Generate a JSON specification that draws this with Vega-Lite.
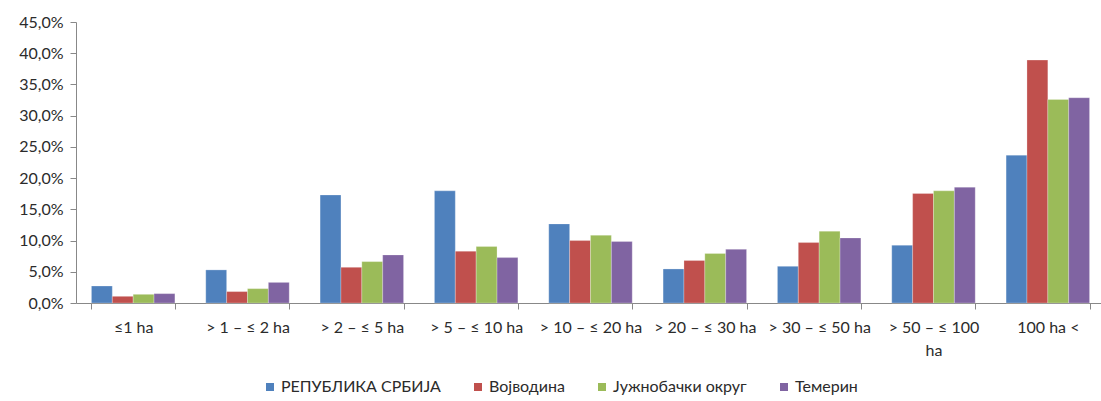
{
  "$schema": "https://vega.github.io/schema/vega-lite/v6.json",
  "width": 1029,
  "height": 281,
  "autosize": {"type": "none"},
  "padding": {"left": 76, "top": 22, "right": 0, "bottom": 98},
  "background": "white",
  "config": {
    "font": "Lato",
    "view": {"stroke": null},
    "axis": {"labelFont": "Lato", "labelFontSize": 16, "labelColor": "#2b2b2b", "domainColor": "#888888", "tickColor": "#888888", "grid": false}
  },
  "data": {
    "values": [
      {"cat": "≤1 ha", "s": "РЕПУБЛИКА СРБИЈА", "v": 2.72},
      {"cat": "≤1 ha", "s": "Војводина", "v": 1.07},
      {"cat": "≤1 ha", "s": "Јужнобачки округ", "v": 1.39},
      {"cat": "≤1 ha", "s": "Темерин", "v": 1.5},
      {"cat": "> 1 – ≤ 2 ha", "s": "РЕПУБЛИКА СРБИЈА", "v": 5.3},
      {"cat": "> 1 – ≤ 2 ha", "s": "Војводина", "v": 1.83},
      {"cat": "> 1 – ≤ 2 ha", "s": "Јужнобачки округ", "v": 2.3},
      {"cat": "> 1 – ≤ 2 ha", "s": "Темерин", "v": 3.3},
      {"cat": "> 2 – ≤ 5 ha", "s": "РЕПУБЛИКА СРБИЈА", "v": 17.3},
      {"cat": "> 2 – ≤ 5 ha", "s": "Војводина", "v": 5.72},
      {"cat": "> 2 – ≤ 5 ha", "s": "Јужнобачки округ", "v": 6.63},
      {"cat": "> 2 – ≤ 5 ha", "s": "Темерин", "v": 7.7},
      {"cat": "> 5 – ≤ 10 ha", "s": "РЕПУБЛИКА СРБИЈА", "v": 17.96},
      {"cat": "> 5 – ≤ 10 ha", "s": "Војводина", "v": 8.29},
      {"cat": "> 5 – ≤ 10 ha", "s": "Јужнобачки округ", "v": 9.04},
      {"cat": "> 5 – ≤ 10 ha", "s": "Темерин", "v": 7.27},
      {"cat": "> 10 – ≤ 20 ha", "s": "РЕПУБЛИКА СРБИЈА", "v": 12.67},
      {"cat": "> 10 – ≤ 20 ha", "s": "Војводина", "v": 10.0},
      {"cat": "> 10 – ≤ 20 ha", "s": "Јужнобачки округ", "v": 10.85},
      {"cat": "> 10 – ≤ 20 ha", "s": "Темерин", "v": 9.84},
      {"cat": "> 20 – ≤ 30 ha", "s": "РЕПУБЛИКА СРБИЈА", "v": 5.45},
      {"cat": "> 20 – ≤ 30 ha", "s": "Војводина", "v": 6.8},
      {"cat": "> 20 – ≤ 30 ha", "s": "Јужнобачки округ", "v": 7.92},
      {"cat": "> 20 – ≤ 30 ha", "s": "Темерин", "v": 8.6},
      {"cat": "> 30 – ≤ 50 ha", "s": "РЕПУБЛИКА СРБИЈА", "v": 5.88},
      {"cat": "> 30 – ≤ 50 ha", "s": "Војводина", "v": 9.68},
      {"cat": "> 30 – ≤ 50 ha", "s": "Јужнобачки округ", "v": 11.5},
      {"cat": "> 30 – ≤ 50 ha", "s": "Темерин", "v": 10.42},
      {"cat": "> 50 – ≤ 100 ha", "s": "РЕПУБЛИКА СРБИЈА", "v": 9.25},
      {"cat": "> 50 – ≤ 100 ha", "s": "Војводина", "v": 17.54},
      {"cat": "> 50 – ≤ 100 ha", "s": "Јужнобачки округ", "v": 17.96},
      {"cat": "> 50 – ≤ 100 ha", "s": "Темерин", "v": 18.55},
      {"cat": "100 ha <", "s": "РЕПУБЛИКА СРБИЈА", "v": 23.68},
      {"cat": "100 ha <", "s": "Војводина", "v": 38.9},
      {"cat": "100 ha <", "s": "Јужнобачки округ", "v": 32.6},
      {"cat": "100 ha <", "s": "Темерин", "v": 32.87}
    ]
  },
  "mark": {"type": "bar", "stroke": "white", "strokeOpacity": 0.5, "strokeWidth": 0.5},
  "encoding": {
    "x": {
      "field": "cat",
      "type": "nominal",
      "sort": ["≤1 ha", "> 1 – ≤ 2 ha", "> 2 – ≤ 5 ha", "> 5 – ≤ 10 ha", "> 10 – ≤ 20 ha", "> 20 – ≤ 30 ha", "> 30 – ≤ 50 ha", "> 50 – ≤ 100 ha", "100 ha <"],
      "scale": {"paddingInner": 0.27, "paddingOuter": 0.135},
      "axis": {
        "title": null,
        "labelAngle": 0,
        "tickBand": "extent",
        "tickSize": 6,
        "labelPadding": 10,
        "labelLineHeight": 23,
        "labelBaseline": "top",
        "labelLimit": 0,
        "labelExpr": "datum.label == '> 50 – ≤ 100 ha' ? ['> 50 – ≤ 100', 'ha'] : datum.label"
      }
    },
    "xOffset": {
      "field": "s",
      "type": "nominal",
      "sort": ["РЕПУБЛИКА СРБИЈА", "Војводина", "Јужнобачки округ", "Темерин"],
      "scale": {"paddingInner": 0, "paddingOuter": 0}
    },
    "y": {
      "field": "v",
      "type": "quantitative",
      "scale": {"domain": [0, 45], "nice": false},
      "axis": {
        "title": null,
        "values": [0, 5, 10, 15, 20, 25, 30, 35, 40, 45],
        "tickSize": 6,
        "labelPadding": 7,
        "labelExpr": "replace(format(datum.value, '.1f'), '.', ',') + '%'"
      }
    },
    "color": {
      "field": "s",
      "type": "nominal",
      "sort": ["РЕПУБЛИКА СРБИЈА", "Војводина", "Јужнобачки округ", "Темерин"],
      "scale": {"domain": ["РЕПУБЛИКА СРБИЈА", "Војводина", "Јужнобачки округ", "Темерин"], "range": ["#4F81BD", "#C0504D", "#9BBB59", "#8064A2"]},
      "legend": {
        "title": null,
        "orient": "none",
        "direction": "horizontal",
        "legendX": 186,
        "legendY": 357,
        "symbolType": "square",
        "symbolSize": 64,
        "symbolStrokeWidth": 0,
        "labelFont": "Lato",
        "labelFontSize": 16,
        "labelColor": "#2b2b2b",
        "labelOffset": 3,
        "columnPadding": 29,
        "labelLimit": 0,
        "padding": 0
      }
    }
  }
}
